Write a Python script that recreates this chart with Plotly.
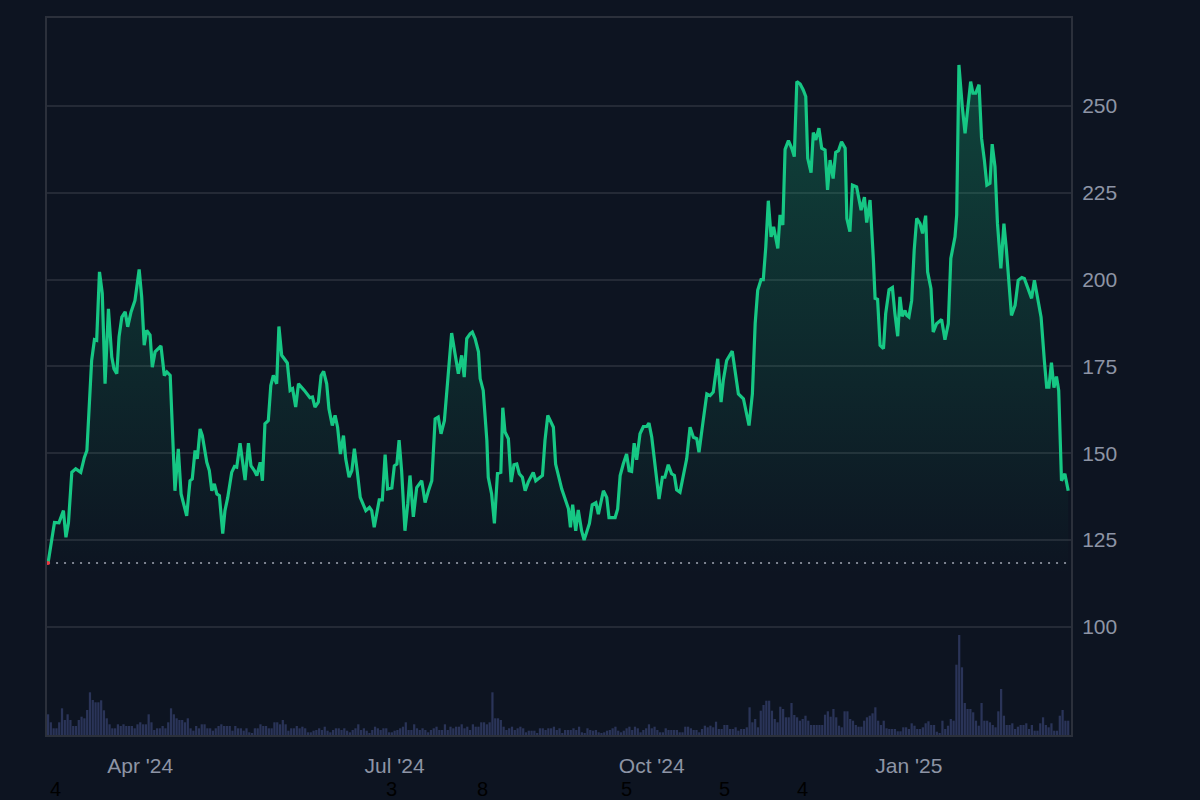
import numpy as np
import pandas as pd
import plotly.graph_objects as go

START_DATE = "2024-02-28"

# day offsets from START_DATE and the price read at each point
price_days = [
    0.0, 2.3, 3.9, 5.5, 6.4, 7.3, 8.5, 9.9, 11.7, 13.0, 13.9, 14.8, 15.6, 16.6, 17.4, 18.4, 19.4, 20.4, 21.6, 22.8,
    23.6, 24.6, 25.4, 26.4, 27.6, 28.5, 29.7, 31.1, 32.6, 33.5, 34.4, 35.3, 36.5, 37.3, 38.3, 40.4, 41.6, 42.5, 43.7, 45.4,
    46.6, 47.6, 49.6, 50.8, 51.6, 52.6, 53.4, 54.4, 55.2, 56.8, 57.7, 58.6, 59.5, 60.4, 61.3, 62.5, 63.3, 64.3, 65.7, 66.7,
    67.5, 68.7, 69.5, 70.5, 71.7, 72.6, 73.8, 74.7, 75.9,
    76.7, 77.6, 78.8, 79.7, 80.6, 81.8, 82.6, 83.6, 85.6, 86.6, 87.5, 88.6, 89.6, 91.7, 93.7, 94.6, 95.5, 96.7, 97.7, 98.6,
    99.7, 100.5, 101.7, 102.7, 103.6, 104.6, 105.7, 106.5, 107.7, 108.7, 109.6, 110.6, 111.7, 113.7, 115.0, 115.8, 116.7, 118.5, 119.6, 120.6,
    121.5, 123.0, 123.9, 124.8, 125.6, 126.5, 127.7, 128.7, 129.5, 130.7, 131.9, 133.7, 134.9, 136.1, 137.3, 138.5, 139.6, 140.6, 141.8, 143.0,
    144.4, 145.6, 146.8, 148.0, 148.9, 149.8, 151.0,
    151.8, 152.8, 154.0, 154.6, 155.7, 157.0, 157.5, 158.7, 159.7, 160.8, 162.0, 162.7, 163.5, 164.7, 165.7, 166.7, 167.7, 168.6, 169.7, 170.7,
    171.8, 173.6, 174.5, 176.9, 177.8, 178.8, 180.8, 181.6, 183.8, 185.0, 186.2, 186.9, 187.7, 188.8, 189.7, 190.9, 191.8, 193.7, 194.7, 196.0,
    196.9, 198.7, 199.9, 200.7, 202.9, 203.8, 204.7, 205.8, 207.0, 207.9, 208.8, 209.7, 210.6, 211.8, 213.0, 214.2, 215.0, 216.0, 217.2, 218.6,
    219.8, 220.7, 221.9, 223.1, 224.1, 224.9, 226.1,
    228.5, 229.7, 230.9, 232.1, 232.9, 234.4, 235.7, 236.9, 238.0, 239.6, 240.8, 241.6, 242.8, 244.8, 246.4, 247.0, 248.8, 250.0, 250.8, 252.0,
    253.0, 253.9, 255.1, 255.9, 256.8, 257.7, 258.7, 259.6, 261.1, 261.9, 262.9, 263.7, 264.9, 266.1, 267.0, 267.9, 269.1, 270.2, 271.1, 271.8,
    273.0, 273.8, 274.7, 275.8, 276.8, 278.0, 278.9, 279.8, 280.9, 281.8, 282.8, 283.9, 285.2, 285.8, 286.9, 287.8, 289.3, 290.9, 292.1, 292.9,
    294.1, 295.3, 295.9, 296.8, 297.7, 298.9, 299.7, 300.9,
    302.1, 303.0, 304.0, 304.8, 305.6, 306.6, 307.2, 308.0, 309.0, 309.9, 310.8, 312.0, 312.9, 314.0, 314.7, 315.9, 316.7, 317.9, 319.7, 320.9,
    322.1, 323.0, 324.5, 325.1, 325.9, 327.1, 328.1, 329.0, 330.1, 330.9, 331.9, 333.1, 334.0, 335.0, 335.9, 337.0, 337.8, 338.8, 339.7, 340.9,
    342.0, 342.9, 343.9, 344.7, 346.0, 347.1, 348.4, 349.3, 350.5, 351.9, 352.9, 354.1, 355.3, 356.5, 357.3, 358.1, 359.0, 359.9, 360.8, 361.6,
    362.6, 363.8, 365.0,
]

prices = [
    118.4, 130.1, 130.0, 133.5, 125.8, 130.0, 144.5, 145.5, 144.5, 148.8, 150.8, 163.3, 176.7, 182.7, 182.5, 202.2, 196.0, 170.0, 191.6, 177.7,
    174.3, 172.9, 183.5, 189.2, 190.7, 186.4, 190.7, 194.0, 202.9, 195.0, 181.1, 185.4, 184.0, 174.8, 179.2, 180.9, 172.4, 173.4, 172.4, 139.2,
    151.3, 138.3, 132.0, 142.1, 142.6, 150.8, 148.4, 157.0, 155.1, 147.4, 145.0, 139.2, 141.2, 138.3, 137.8, 126.9, 133.5, 137.3, 144.5, 146.2,
    146.0, 152.9, 147.9, 142.3, 152.9, 146.4, 145.0, 143.6, 147.4,
    142.1, 158.5, 159.4, 169.5, 172.4, 170.0, 186.5, 178.2, 176.0, 168.1, 168.6, 163.3, 170.0, 168.1, 166.0, 166.2, 163.3, 164.7, 172.4, 173.6,
    170.0, 162.8, 158.0, 160.9, 157.5, 149.8, 155.1, 148.4, 143.1, 145.0, 151.3, 145.0, 137.3, 133.5, 134.4, 133.5, 128.7, 136.6, 136.6, 149.6,
    139.7, 140.0, 146.4, 146.9, 153.8, 145.0, 127.7, 135.4, 143.6, 131.7, 140.1, 142.1, 135.8, 139.2, 142.1, 159.9, 160.4, 155.6, 159.4, 171.0,
    184.6, 178.7, 172.9, 178.2, 171.9, 183.0, 184.4,
    184.9, 183.0, 179.2, 171.5, 168.1, 153.7, 143.1, 138.3, 129.8, 144.2, 144.5, 163.1, 156.1, 154.2, 141.7, 146.7, 146.9, 144.1, 143.1, 139.2,
    141.7, 144.5, 142.1, 143.6, 153.7, 160.9, 157.5, 146.9, 139.7, 136.8, 134.0, 128.7, 135.2, 127.7, 133.7, 127.7, 125.0, 129.8, 135.2, 135.8,
    132.5, 139.2, 137.3, 131.5, 131.5, 134.0, 143.6, 146.9, 149.8, 145.0, 144.8, 152.9, 148.1, 155.6, 157.7, 157.7, 158.7, 154.6, 146.0, 136.8,
    143.1, 143.1, 146.7, 144.1, 143.6, 139.5, 138.8,
    148.4, 157.5, 154.6, 154.2, 150.3, 159.4, 167.1, 166.6, 167.6, 177.2, 164.7, 171.0, 176.7, 179.4, 169.5, 167.1, 165.7, 161.4, 158.0, 167.1,
    187.3, 196.9, 200.0, 200.0, 209.4, 222.7, 212.3, 215.2, 209.0, 218.6, 215.7, 237.5, 240.0, 237.8, 235.4, 257.0, 256.3, 254.6, 252.7, 234.9,
    230.8, 242.3, 240.2, 243.6, 237.8, 237.3, 225.8, 234.4, 229.1, 236.6, 237.1, 239.7, 237.8, 217.6, 213.8, 227.2, 226.7, 220.0, 223.7, 216.4,
    222.9, 205.6, 194.6, 194.3, 181.1, 180.1, 190.2, 197.1,
    197.7, 190.2, 183.7, 195.0, 189.4, 191.1, 189.7, 189.2, 194.0, 208.5, 217.6, 216.1, 213.3, 218.4, 202.2, 197.4, 184.9, 187.3, 188.5, 182.7,
    187.3, 206.1, 212.3, 218.6, 261.8, 249.8, 242.1, 248.8, 257.0, 253.7, 253.7, 256.1, 240.7, 234.4, 227.2, 227.7, 239.0, 232.5, 216.1, 203.2,
    216.1, 208.5, 197.9, 189.7, 192.6, 199.8, 200.6, 200.3, 197.7, 194.6, 199.8, 195.0, 189.2, 176.3, 169.0, 169.0, 176.1, 168.9, 172.1, 168.1,
    142.1, 144.1, 139.2,
]

# daily volume (relative units), one per day from START_DATE
volume = [
    20.7, 12.7, 6.7, 6.7, 12.7, 26.7, 15, 20.7, 15, 9, 9, 15, 18.3, 16.7, 25, 42.7, 35, 32.7, 32.7, 34.7,
    24.7, 16.7, 10.7, 6.7, 6.7, 10.7, 9, 10.7, 9, 9, 9, 6.7, 10.7, 12.7, 10.7, 10.7, 20.7, 12.7, 5, 6.7,
    6.7, 9, 6.7, 12.7, 26.7, 20.7, 16.7, 15, 15, 12.7, 16.7, 6.7, 4.3, 9, 6.7, 10.7, 10.7, 6.7, 6.7, 4.3,
    6.7, 9, 10.7, 9, 9, 9, 4.3, 9, 6.7, 6.7, 4.3, 6.7, 2.7, 1.7, 6.7, 6.7, 10.7, 9, 9, 6.7,
    6.7, 12.7, 12.7, 10.7, 15, 10.7, 4.3, 6.7, 6.7, 9,
    6.7, 8.3, 6.7, 2.7, 2.7, 4.3, 5, 6.7, 5, 8.3, 4.3, 2.7, 5, 6.7, 6.7, 5, 6.7, 4.3, 2.7, 5,
    6.7, 10.7, 5, 6.7, 4.3, 1.7, 5, 8.3, 6.7, 5, 6.7, 6.7, 2.7, 2.7, 4.3, 5, 6.7, 8.3, 12.7, 5,
    5, 10.7, 6.7, 5, 6.7, 5, 2.7, 5, 6.7, 8.3, 5, 5, 10.7, 5, 8.3, 6.7, 8.3, 8.3, 10.7, 6.7,
    8.3, 5, 10.7, 8.3, 8.3, 12.7, 12.7, 10.7, 12.7, 42.7, 16.7, 16.7, 15, 8.3, 5, 6.7, 8.3, 5, 6.7, 8.3,
    6.7, 2.7, 4.3, 4.3, 4.3, 1.7, 6.7, 6.7, 5, 6.7, 6.7, 8.3, 5, 6.7, 1.7, 5, 5, 5, 6.7,
    5, 8.3, 2.7, 1.7, 6.7, 5, 4.3, 5, 2.7, 1.7, 2.7, 4.3, 5, 6.7, 8.3, 4.3, 2.7, 4.3, 6.7, 8.3,
    5, 8.3, 6.7, 2.7, 5, 6.7, 10.7, 6.7, 8.3, 5, 2.7, 2.7, 6.7, 5, 5, 5, 5, 2.7, 2.7, 8.3,
    8.3, 6.7, 5, 5,
    2.7, 6, 9.3, 7.7, 9.3, 7.7, 13.3, 6, 6, 10, 10, 6, 6, 7.7, 4.3, 6, 6, 7.7, 27.7, 12.7,
    16, 7.7, 24.3, 30, 34.3, 34.3, 24.3, 16, 12.7, 28.3, 26, 17.7, 17.7, 32, 20, 17.7, 14.3, 16, 19.3, 14.3,
    10, 10, 10, 10, 10, 20.3, 23.7, 18.3, 26, 17.7, 9.3, 7.7, 23.7, 23.7, 16, 14.3, 10, 8.3, 8.3, 14.3,
    17.7, 19.3, 21.7, 27.7, 14.3, 10, 14.3, 6.7, 6, 6, 6, 3.7, 3.7, 7.7, 7.7, 6, 11.7, 9.3, 6, 6,
    7.7, 11.7, 13.7, 10, 10, 3.3, 1.7, 14.3, 6, 9.3, 16, 14.3, 70.3, 100, 67.7, 32, 26, 26, 22.7, 14.3,
    9.3, 32, 14.3, 14.3, 12.7, 10, 7.7, 23.7, 46, 19.3, 10, 10, 11.7, 6, 8.3, 10, 10, 11.7, 6, 10,
    4.3, 4.3, 11.7, 17.7, 10, 7.7, 11.7, 4.3, 4.3, 19.3, 25, 14.3, 14.3,
]

x_tick_dates = ["2024-04-01", "2024-07-01", "2024-10-01", "2025-01-01"]
x_tick_labels = ["Apr '24", "Jul '24", "Oct '24", "Jan '25"]
y_tick_values = [100, 125, 150, 175, 200, 225, 250]

marker_dates = ["2024-03-01 12:00", "2024-06-30", "2024-08-01 07:00",
                "2024-09-21 19:00", "2024-10-26 22:00", "2024-11-24"]
marker_labels = ["4", "3", "8", "5", "5", "4"]

assert len(price_days) == len(prices)

start = pd.Timestamp(START_DATE)
price_dates = start + pd.to_timedelta(price_days, unit="D")
vol_dates = start + pd.to_timedelta(np.arange(len(volume)), unit="D")

BG = "#0d1421"
GREEN = "#16c784"
GRID = "#242a36"
FRAME = "#2b303b"
TICK = "#8d94a5"
FONT = "Liberation Sans, Arial, sans-serif"

fig = go.Figure()

fig.add_trace(go.Bar(
    x=vol_dates, y=volume, yaxis="y2",
    marker=dict(color="#2a3458", line=dict(width=0)),
    hoverinfo="skip", showlegend=False,
))

fig.add_trace(go.Scatter(
    x=price_dates, y=prices, mode="lines",
    line=dict(color=GREEN, width=3.2),
    fill="tozeroy",
    fillgradient=dict(
        type="vertical",
        colorscale=[[0, "rgba(22,199,132,0.0)"], [1, "rgba(22,199,132,0.27)"]],
        start=115, stop=262,
    ),
    showlegend=False,
))

fig.add_trace(go.Scatter(
    x=[price_dates[0], price_dates[-1]], y=[prices[0], prices[0]],
    mode="lines", line=dict(color="#a3a9b5", width=1.6, dash="2px,6px"),
    hoverinfo="skip", showlegend=False,
))

fig.add_trace(go.Scatter(
    x=[price_dates[0]], y=[prices[0]], mode="markers",
    marker=dict(color="#ea3943", size=4),
    showlegend=False,
))

for d, t in zip(marker_dates, marker_labels):
    fig.add_annotation(
        x=d, xref="x", y=-0.075, yref="paper", text=t, showarrow=False,
        font=dict(color="#000000", size=20, family=FONT),
        xanchor="center", yanchor="middle",
    )

x_start = start - pd.Timedelta(hours=9)
x_end = start + pd.Timedelta(days=366)

fig.update_layout(
    width=1200, height=800,
    paper_bgcolor=BG, plot_bgcolor=BG,
    margin=dict(l=47, r=129, t=18, b=65),
    font=dict(family=FONT, size=21, color=TICK),
    bargap=0.2,
    xaxis=dict(
        type="date", range=[x_start, x_end],
        tickmode="array", tickvals=x_tick_dates, ticktext=x_tick_labels,
        showgrid=False, zeroline=False,
        showline=True, mirror=True, linecolor=FRAME, linewidth=2,
        ticks="", ticklabelstandoff=11,
        tickfont=dict(size=21, color=TICK),
    ),
    yaxis=dict(
        side="right", range=[68.9, 275.3],
        tickmode="array", tickvals=y_tick_values,
        showgrid=True, gridcolor=GRID, gridwidth=1.5, zeroline=False,
        showline=True, mirror=True, linecolor=FRAME, linewidth=2,
        ticks="", ticklabelstandoff=5,
        tickfont=dict(size=21, color=TICK),
    ),
    yaxis2=dict(
        overlaying="y", range=[0, max(volume) * 7.17],
        showgrid=False, showticklabels=False, zeroline=False, showline=False,
    ),
    hovermode=False,
)

fig.write_html("out.html")
